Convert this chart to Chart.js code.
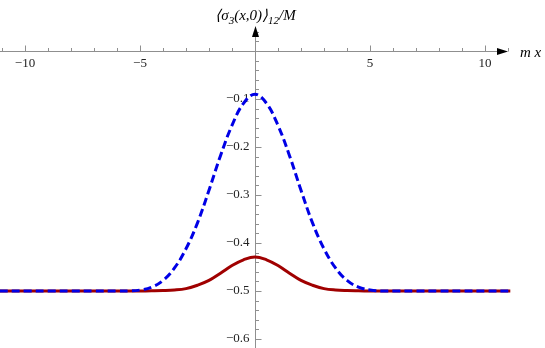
<!DOCTYPE html>
<html>
<head>
<meta charset="utf-8">
<script src="https://cdn.jsdelivr.net/npm/chart.js@4"></script>
<style>
  html, body { margin: 0; padding: 0; background: #fff; }
  #wrap { width: 545px; height: 348px; }
</style>
</head>
<body>
<div id="wrap"><canvas id="plot" width="545" height="348"></canvas></div>
<script>
// values (curves are symmetric around x = 0)
const xs = [-11.1, -10, -9, -8, -7, -6, -5.5, -5, -4.5, -4, -3.5, -3, -2.5, -2, -1.5, -1, -0.5, 0,
            0.5, 1, 1.5, 2, 2.5, 3, 3.5, 4, 4.5, 5, 5.5, 6, 7, 8, 9, 10, 11.1];
const blueVals = [-0.5, -0.5, -0.5, -0.5, -0.5, -0.5, -0.5, -0.498, -0.492, -0.478, -0.452, -0.412, -0.358, -0.29, -0.218, -0.155, -0.109, -0.09,
                  -0.109, -0.155, -0.218, -0.29, -0.358, -0.412, -0.452, -0.478, -0.492, -0.498, -0.5, -0.5, -0.5, -0.5, -0.5, -0.5, -0.5];
const redVals = [-0.5, -0.5, -0.5, -0.5, -0.5, -0.5, -0.5, -0.5, -0.4997, -0.4992, -0.498, -0.495, -0.488, -0.478, -0.463, -0.447, -0.435, -0.429,
                 -0.435, -0.447, -0.463, -0.478, -0.488, -0.495, -0.498, -0.4992, -0.4997, -0.5, -0.5, -0.5, -0.5, -0.5, -0.5, -0.5, -0.5];

const xMajor = [-10, -5, 5, 10];
const xMajorLabels = ['\u221210', '\u22125', '5', '10'];
const yMajor = [-0.1, -0.2, -0.3, -0.4, -0.5, -0.6];
const yMajorLabels = ['\u22120.1', '\u22120.2', '\u22120.3', '\u22120.4', '\u22120.5', '\u22120.6'];

const pts = vals => xs.map((x, i) => ({ x: x, y: vals[i] }));

// Mathematica style axes crossing at the origin
const axesPlugin = {
  id: 'axes',
  beforeDatasetsDraw(chart) {
    const ctx = chart.ctx;
    const sx = chart.scales.x, sy = chart.scales.y;
    const x0 = Math.round(sx.getPixelForValue(0)) + 0.5;
    const y0 = Math.round(sy.getPixelForValue(0)) + 0.5;
    const xEnd = sx.getPixelForValue(11);
    const yTop = sy.getPixelForValue(0.052);
    ctx.save();
    ctx.strokeStyle = '#8f8f8f';
    ctx.lineWidth = 1;
    ctx.beginPath();
    ctx.moveTo(0, y0); ctx.lineTo(xEnd - 8, y0);
    ctx.moveTo(x0, chart.height); ctx.lineTo(x0, yTop + 8);
    // x ticks
    for (let v = -11; v <= 11; v++) {
      if (v === 0) continue;
      const px = Math.round(sx.getPixelForValue(v)) + 0.5;
      const len = v % 5 === 0 ? 6 : 3.5;
      ctx.moveTo(px, y0); ctx.lineTo(px, y0 - len);
    }
    // y ticks
    for (let k = -30; k <= 2; k++) {
      if (k === 0) continue;
      const py = Math.round(sy.getPixelForValue(k * 0.02)) + 0.5;
      const len = k % 5 === 0 ? 6 : 3.5;
      ctx.moveTo(x0, py); ctx.lineTo(x0 + len, py);
    }
    ctx.stroke();

    // arrow heads
    ctx.fillStyle = '#000';
    ctx.beginPath();
    ctx.moveTo(xEnd, y0); ctx.lineTo(xEnd - 11, y0 - 3.5); ctx.lineTo(xEnd - 11, y0 + 3.5);
    ctx.closePath(); ctx.fill();
    ctx.beginPath();
    ctx.moveTo(x0, yTop); ctx.lineTo(x0 - 3.5, yTop + 11); ctx.lineTo(x0 + 3.5, yTop + 11);
    ctx.closePath(); ctx.fill();

    // tick labels
    ctx.fillStyle = '#222';
    ctx.font = '13px "Liberation Serif", "DejaVu Serif", serif';
    ctx.textAlign = 'center';
    ctx.textBaseline = 'middle';
    xMajor.forEach((v, i) => ctx.fillText(xMajorLabels[i], sx.getPixelForValue(v), y0 + 12));
    ctx.textAlign = 'right';
    yMajor.forEach((v, i) => ctx.fillText(yMajorLabels[i], x0 - 6, sy.getPixelForValue(v)));

    // axis titles
    ctx.fillStyle = '#000';
    ctx.textAlign = 'left';
    ctx.textBaseline = 'alphabetic';
    const big = 'italic 15px "Liberation Serif", serif';
    const small = 'italic 11px "Liberation Serif", serif';
    ctx.font = big;
    ctx.fillText('m x', 520, y0 + 5);
    const parts = [['\u27E8\u03C3', big, 0], ['3', small, 4], ['(x,0)\u27E9', big, 0], ['12', small, 4], ['/M', big, 0]];
    let w = 0;
    parts.forEach(p => { ctx.font = p[1]; w += ctx.measureText(p[0]).width; });
    let cx = x0 - w / 2;
    parts.forEach(p => {
      ctx.font = p[1];
      ctx.fillText(p[0], cx, 20 + p[2]);
      cx += ctx.measureText(p[0]).width;
    });
    ctx.restore();
  }
};

new Chart(document.getElementById('plot'), {
  type: 'line',
  data: {
    datasets: [
      {
        label: 'blue',
        data: pts(blueVals),
        borderColor: '#0000e6',
        borderWidth: 3,
        borderDash: [8, 4],
        pointRadius: 0,
        tension: 0.4,
        fill: false,
        order: 0
      },
      {
        label: 'red',
        data: pts(redVals),
        borderColor: '#a00000',
        borderWidth: 3,
        pointRadius: 0,
        tension: 0.4,
        fill: false,
        order: 1
      }
    ]
  },
  options: {
    responsive: false,
    animation: false,
    layout: { padding: 0 },
    plugins: { legend: { display: false }, tooltip: { enabled: false } },
    scales: {
      x: { type: 'linear', min: -255 / 23, max: 290 / 23, display: false },
      y: { type: 'linear', min: -297 / 480, max: 51 / 480, display: false }
    }
  },
  plugins: [axesPlugin]
});
</script>
</body>
</html>
